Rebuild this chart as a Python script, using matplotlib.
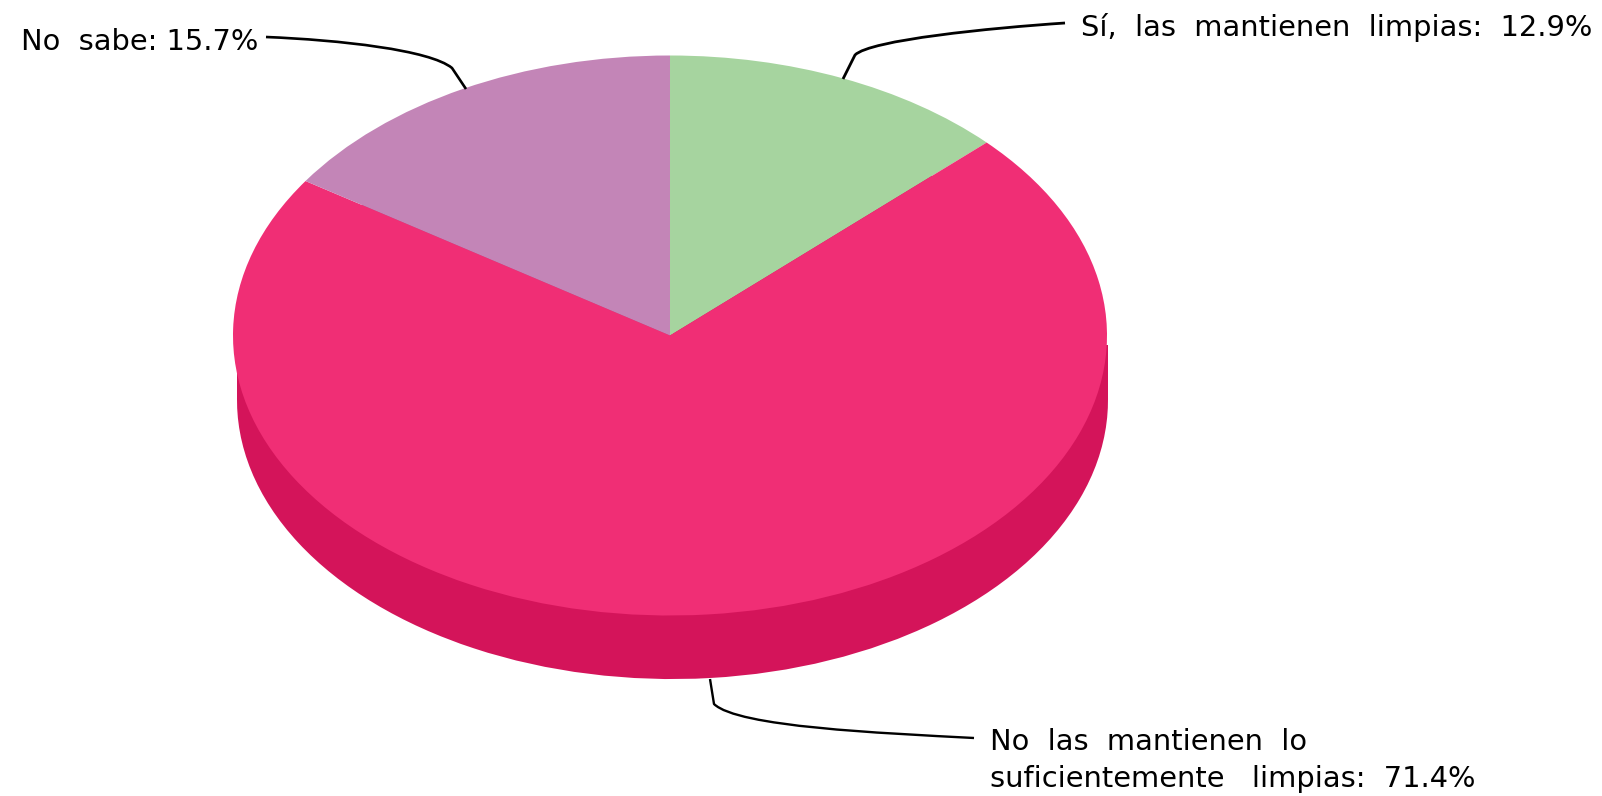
import matplotlib
matplotlib.use("Agg")
import matplotlib.pyplot as plt
from matplotlib.patches import PathPatch, Rectangle
from matplotlib.path import Path

# doubled spaces stand in for the letter spacing of the original labels
label_si = "Sí,  las  mantienen  limpias:  12.9%"
label_no_1 = "No  las  mantienen  lo"
label_no_2 = "suficientemente   limpias:  71.4%"
label_ns = "No  sabe: 15.7%"
values = [12.9, 71.4, 15.7]
top_colors = ["#A6D49F", "#F02E75", "#C385B7"]
side_color = "#D4145A"

W, H = 1602, 796

# Pie geometry in pixels of the picture
cx, cy, rx, ry = 670, 335.5, 437, 280
side_cx, side_cy, side_rx = 672.5, 400, 435.5

def to_data(px, py):
	return (px - cx) / rx, (cy - py) / ry

fig = plt.figure(figsize=(W / 100, H / 100), dpi=100)
ax = fig.add_axes([0, 0, 1, 1])

# Extruded side: a dark pie below, joined to the top by a rectangle
ax.pie(values, colors=[side_color] * 3, startangle=90, counterclock=False,
	center=to_data(side_cx, side_cy), radius=side_rx / rx, frame=True)
ax.add_patch(Rectangle(to_data(side_cx - side_rx, side_cy), 2 * side_rx / rx,
	(side_cy - 345) / ry, facecolor=side_color, edgecolor="none"))
ax.pie(values, colors=top_colors, startangle=90, counterclock=False, center=(0, 0),
	radius=1, frame=True)

ax.set_aspect("auto")
ax.set_xlim((0 - cx) / rx, (W - cx) / rx)
ax.set_ylim((cy - H) / ry, cy / ry)
ax.axis("off")

# Leader lines
def leader(start, c1, c2, knee, end, lw):
	pts = [to_data(*p) for p in (start, c1, c2, knee, end)]
	codes = [Path.MOVETO, Path.CURVE4, Path.CURVE4, Path.CURVE4, Path.LINETO]
	ax.add_patch(PathPatch(Path(pts, codes), facecolor="none", edgecolor="black",
		lw=lw, capstyle="butt", joinstyle="round", zorder=5))

leader((266, 37), (340, 40), (430, 50), (452, 68), (466, 89), 1.9)
leader((1065, 23), (990, 28), (870, 40), (855, 55), (843, 79), 2)
leader((974, 738), (880, 733), (738, 727), (714, 704), (710, 679), 1.7)

# Labels
def label(px, py, s):
	x, y = to_data(px, py)
	ax.text(x, y, s, ha="left", va="baseline", family="DejaVu Sans", fontsize=20.8, color="black")

label(1081, 36, label_si)
label(990, 750, label_no_1)
label(990, 787, label_no_2)
label(21, 50, label_ns)

fig.savefig("out.png", dpi=100)
